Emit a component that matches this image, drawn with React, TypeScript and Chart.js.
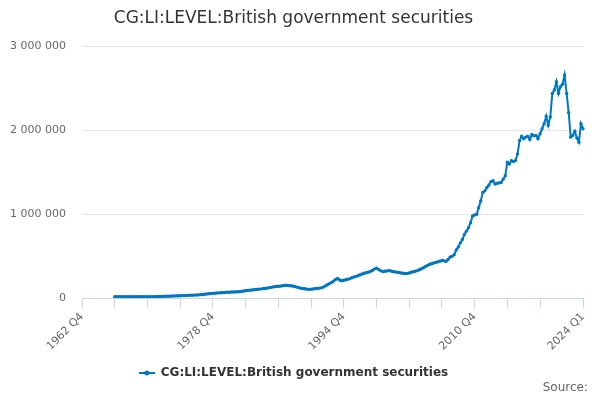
import { useEffect, useRef } from "react";
import { Chart, registerables } from "chart.js";
Chart.register(...registerables);

const FONT = "'DejaVu Sans', Verdana, sans-serif";
const LINE_COLOR = "#0077c0";

// quarters shown on the category axis, 1962 Q4 .. 2024 Q1
const quarterLabels: string[] = [];
for (let y = 1962, q = 4; y < 2024 || (y === 2024 && q <= 1); q++) {
  if (q > 4) {
    q = 1;
    y++;
  }
  if (y === 2024 && q > 1) break;
  quarterLabels.push(`${y} Q${q}`);
}

const firstQuarter = "1966 Q4";
const seriesName = "CG:LI:LEVEL:British government securities";
const sourceText = "Source:";

// 1966 Q4 .. 2024 Q1
const securities = [
  20000, 19500, 19800, 19200, 19000, 18800, 18500, 18600, 18200, 18000,
  18100, 18300, 18000, 18400, 18600, 18900, 19200, 19500, 19800, 20100,
  20500, 21000, 21800, 22500, 23400, 24100, 25000, 26200, 27100, 28300,
  29000, 30200, 31000, 32500, 33800, 35000, 35600, 36200, 37500, 38400, 39600,
  41000, 43500, 46000, 49000, 52000, 55000, 57500, 59000, 61000, 63500,
  65000, 66800, 68500, 70000, 71500, 73000, 74800, 75500, 76000, 77500,
  78500, 82000, 87000, 91000, 95000, 97500, 100000, 102000, 105000, 107500,
  110000, 113000, 117000, 120000, 124000, 128000, 134000, 137000, 140000, 143000,
  145000, 149000, 152000, 155000, 151000, 149500, 146000, 141000, 134000, 128000,
  120000, 117000, 114000, 109000, 107000, 108000, 111000, 115000, 118000, 121000, 125000,
  134000, 148000, 162000, 175000, 190000, 205000, 225000, 237000, 218000, 210000,
  215000, 222000, 228000, 235000, 245000, 255000, 262000, 270000, 280000, 290000,
  298000, 305000, 312000, 320000, 332000, 348000, 360000, 345000, 330000, 320000,
  322000, 326000, 330000, 326000, 320000, 315000, 312000, 308000, 302000, 298000, 295000,
  297000, 302000, 310000, 316000, 322000, 330000, 340000, 352000, 365000, 380000,
  393000, 405000, 412000, 420000, 428000, 436000, 442000, 450000, 448000, 440000,
  462000, 492000, 500000, 520000, 575000, 610000, 660000, 700000, 760000, 800000,
  840000, 900000, 980000, 992000, 1000000, 1080000, 1160000, 1260000, 1280000, 1320000,
  1350000, 1390000, 1400000, 1360000, 1370000, 1375000, 1380000, 1420000, 1460000, 1620000, 1600000,
  1640000, 1630000, 1640000, 1720000, 1880000, 1930000, 1900000, 1920000, 1930000, 1890000,
  1950000, 1935000, 1940000, 1900000, 1960000, 2020000, 2080000, 2170000, 2060000, 2160000,
  2440000, 2480000, 2580000, 2440000, 2520000, 2550000, 2660000, 2440000, 2210000, 1920000,
  1940000, 1990000, 1910000, 1860000, 2080000, 2020000,
];

const labelledQuarters = ["1962 Q4", "1978 Q4", "1994 Q4", "2010 Q4", "2024 Q1"];
const yTicks = [0, 1000000, 2000000, 3000000];

// "Source:" credit in the bottom right corner
const creditPlugin = {
  id: "credit",
  afterDraw: (chart: any) => {
    const ctx = chart.ctx;
    ctx.save();
    ctx.font = `12px ${FONT}`;
    ctx.fillStyle = "#666666";
    ctx.textAlign = "right";
    ctx.textBaseline = "middle";
    ctx.fillText(sourceText, chart.width - 12, chart.height - 12);
    ctx.restore();
  },
};

const App = () => {
  const canvasRef = useRef<HTMLCanvasElement>(null);
  const chartRef = useRef<Chart | null>(null);

  useEffect(() => {
    document.body.style.margin = "0";

    const offset = quarterLabels.indexOf(firstQuarter);
    const data = quarterLabels.map((_, i) =>
      i < offset ? null : securities[i - offset] ?? null
    );
    const last = quarterLabels.length - 1;

    // legend symbol: short line with a dot
    const sym = document.createElement("canvas");
    sym.width = 16;
    sym.height = 8;
    const sctx = sym.getContext("2d")!;
    sctx.strokeStyle = LINE_COLOR;
    sctx.lineWidth = 2;
    sctx.beginPath();
    sctx.moveTo(0, 4);
    sctx.lineTo(16, 4);
    sctx.stroke();
    sctx.fillStyle = LINE_COLOR;
    sctx.beginPath();
    sctx.arc(8, 4, 2.5, 0, Math.PI * 2);
    sctx.fill();

    chartRef.current = new Chart(canvasRef.current!, {
      type: "line",
      data: {
        labels: quarterLabels,
        datasets: [
          {
            label: seriesName,
            data,
            borderColor: LINE_COLOR,
            backgroundColor: LINE_COLOR,
            borderWidth: 2,
            pointRadius: 1.7,
            pointBorderWidth: 0,
            pointBackgroundColor: LINE_COLOR,
            pointStyle: "circle",
            tension: 0,
          },
        ],
      },
      options: {
        responsive: false,
        animation: false,
        layout: { padding: { left: 4, right: 17, top: 0, bottom: 11 } },
        plugins: {
          title: {
            display: true,
            text: seriesName,
            color: "#333333",
            font: { family: FONT, size: 17, weight: "normal" },
            padding: { top: 8, bottom: 18 },
          },
          legend: {
            position: "bottom",
            labels: {
              usePointStyle: true,
              pointStyle: sym,
              pointStyleWidth: 16,
              color: "#333333",
              font: { family: FONT, size: 12, weight: "bold" },
              padding: 12,
            },
          },
          tooltip: { enabled: false },
        },
        scales: {
          x: {
            type: "category",
            offset: false,
            afterBuildTicks: (scale: any) => {
              scale.ticks = scale.ticks.filter(
                (t: any) =>
                  t.value === last || (t.value % 16 === 0 && last - t.value > 8)
              );
            },
            ticks: {
              autoSkip: false,
              minRotation: 45,
              maxRotation: 45,
              color: "#666666",
              font: { family: FONT, size: 11 },
              padding: 2,
              callback: function (this: any, value: any) {
                const lab = this.getLabelForValue(value);
                return labelledQuarters.includes(lab) ? lab : "";
              },
            },
            grid: {
              display: true,
              drawOnChartArea: false,
              drawTicks: true,
              tickLength: 10,
              tickColor: "#ccd6eb",
              color: "#ccd6eb",
            },
            border: { display: true, color: "#ccd6eb", width: 1 },
          },
          y: {
            min: 0,
            max: 3000000,
            afterBuildTicks: (scale: any) => {
              scale.ticks = yTicks.map((v) => ({ value: v }));
            },
            afterFit: (scale: any) => {
              scale.width = 78;
            },
            ticks: {
              color: "#666666",
              font: { family: FONT, size: 11 },
              padding: 16,
              callback: (v: any) =>
                Number(v).toLocaleString("en-US").replace(/,/g, " "),
            },
            grid: { color: "#e6e6e6", drawTicks: false },
            border: { display: false },
          },
        },
      },
      plugins: [creditPlugin],
    });

    return () => {
      chartRef.current?.destroy();
      chartRef.current = null;
    };
  }, []);

  return (
    <div style={{ width: 600, height: 400, background: "#ffffff" }}>
      <canvas ref={canvasRef} width={600} height={400} />
    </div>
  );
};

export default App;
